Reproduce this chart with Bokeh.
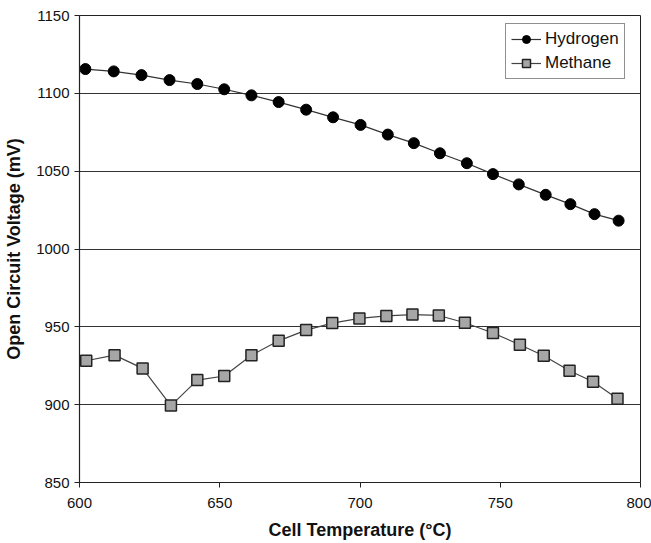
from bokeh.plotting import figure
from bokeh.models import FixedTicker, Legend, LegendItem, Range1d
from bokeh.embed import file_html
from bokeh.resources import INLINE

# Data
temp_h = [602.1, 612.2, 622.1, 632.1, 642.0, 651.6, 661.3, 671.0, 680.8, 690.4, 700.2,
          709.9, 719.2, 728.5, 738.1, 747.4, 756.6, 766.2, 775.0, 783.6, 792.2]
volt_h = [1115.6, 1114.1, 1111.7, 1108.5, 1106.0, 1102.6, 1098.7, 1094.4, 1089.5, 1084.6, 1079.7,
          1073.5, 1068.0, 1061.5, 1055.1, 1048.1, 1041.5, 1034.8, 1028.8, 1022.4, 1018.2]
temp_m = [602.4, 612.5, 622.5, 632.6, 642.0, 651.6, 661.3, 671.0, 680.8, 690.1, 699.8,
          709.4, 718.7, 728.1, 737.4, 747.4, 757.0, 765.5, 774.7, 783.1, 791.8]
volt_m = [928.2, 931.8, 923.3, 899.4, 915.8, 918.4, 931.8, 941.0, 947.9, 952.4, 955.4,
          957.0, 957.9, 957.3, 952.6, 946.0, 938.5, 931.4, 921.8, 914.7, 903.8]
x_ticks = [600, 650, 700, 750, 800]
y_ticks = [850, 900, 950, 1000, 1050, 1100, 1150]
x_title = "Cell Temperature (°C)"
y_title = "Open Circuit Voltage (mV)"

FONT = "Liberation Sans"

p = figure(width=651, height=543, output_backend="svg", toolbar_location=None,
           x_range=Range1d(600, 800), y_range=Range1d(850, 1150),
           min_border_left=79, min_border_right=11, min_border_top=15, min_border_bottom=61,
           background_fill_color="white", border_fill_color="white")

p.outline_line_color = "#222222"
p.outline_line_width = 1

p.xgrid.grid_line_color = None
p.ygrid.grid_line_color = "#333333"
p.ygrid.grid_line_width = 1.2

p.xaxis.ticker = FixedTicker(ticks=x_ticks)
p.yaxis.ticker = FixedTicker(ticks=y_ticks)
for ax in (p.xaxis, p.yaxis):
    ax.axis_line_color = "#222222"
    ax.axis_line_width = 1.2
    ax.major_tick_line_color = "#222222"
    ax.major_tick_in = 0
    ax.major_tick_out = 5
    ax.minor_tick_line_color = None
    ax.major_label_text_font = FONT
    ax.major_label_text_font_size = "15px"
    ax.major_label_text_color = "#111111"
    ax.axis_label_text_font = FONT
    ax.axis_label_text_font_style = "bold"
    ax.axis_label_text_font_size = "18px"
    ax.axis_label_text_color = "#111111"

p.xaxis.axis_label = x_title
p.yaxis.axis_label = y_title
p.xaxis.major_label_standoff = 10
p.xaxis.axis_label_standoff = 9
p.yaxis.major_label_standoff = 5
p.yaxis.axis_label_standoff = 9

lh = p.line(temp_h, volt_h, line_color="#333333", line_width=1.2)
ch = p.scatter(temp_h, volt_h, marker="circle", size=11, fill_color="black", line_color="black")
lm = p.line(temp_m, volt_m, line_color="#444444", line_width=1.2)
sm = p.scatter(temp_m, volt_m, marker="square", size=11, fill_color="#a6a6a6",
               line_color="#222222", line_width=1.5)

legend = Legend(items=[LegendItem(label="Hydrogen", renderers=[lh, ch]),
                       LegendItem(label="Methane", renderers=[lm, sm])],
                location=(426, 403))
legend.border_line_color = "#222222"
legend.border_line_width = 1
legend.background_fill_color = "white"
legend.label_text_font = FONT
legend.label_text_font_size = "17px"
legend.label_text_color = "#111111"
legend.glyph_width = 30
legend.glyph_height = 20
legend.label_height = 20
legend.label_standoff = 4
legend.spacing = 4
legend.padding = 5
legend.margin = 0
p.add_layout(legend, "center")

open("out.html", "w").write(file_html(p, INLINE))
